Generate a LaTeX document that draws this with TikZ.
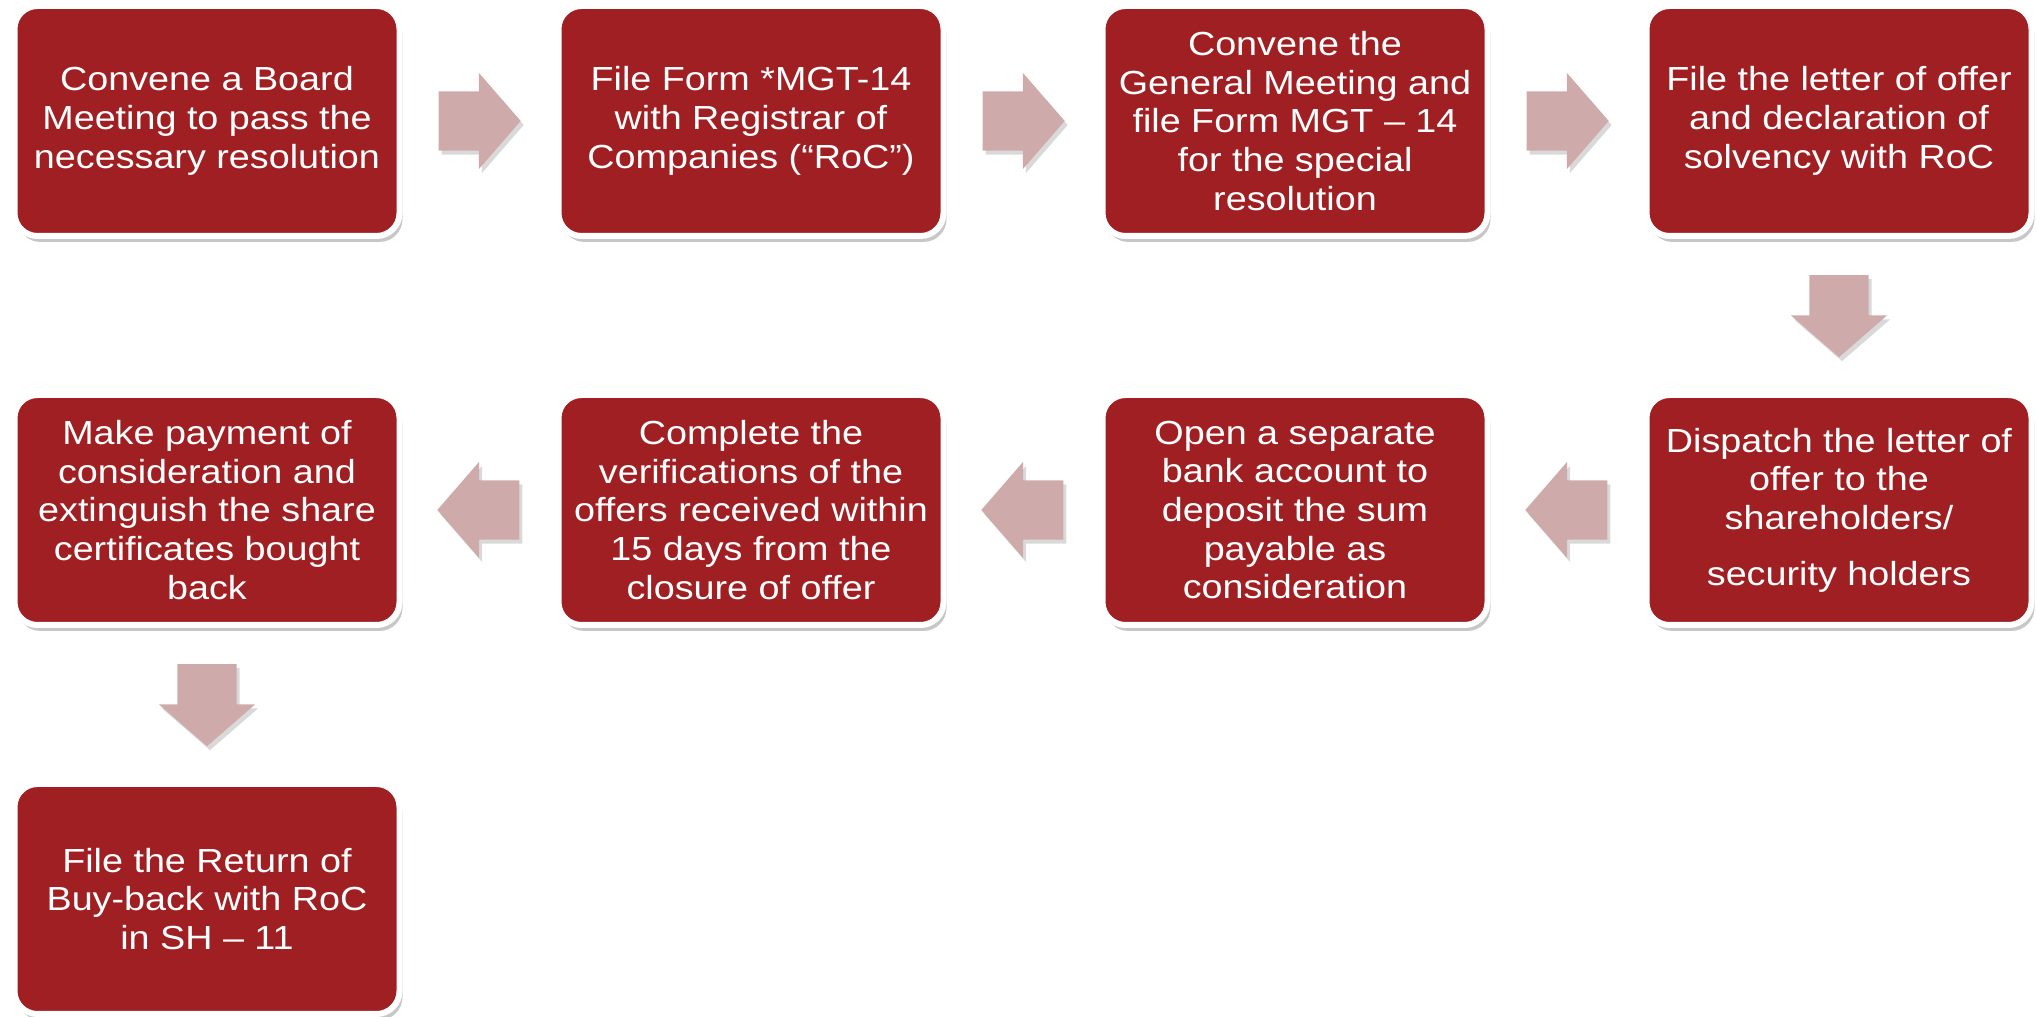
\documentclass[tikz,border=0pt]{standalone}
\usepackage{fontspec}
\setmainfont{Liberation Sans}[FakeStretch=1.13]
\usetikzlibrary{positioning,calc,shapes.arrows,shadows}

\definecolor{boxred}{RGB}{160,31,34}
\definecolor{arrowpink}{RGB}{206,170,170}

\begin{document}
\begin{tikzpicture}[node distance=15.3mm,
      stage/.style={rectangle,rounded corners=2.3mm,fill=boxred,draw=white,line width=0.6mm,
        minimum width=38.5mm,minimum height=23mm,inner sep=0pt,align=center,text=white,
        font=\fontsize{9.5}{11}\selectfont,
        drop shadow={shadow xshift=0.3mm,shadow yshift=-0.6mm,fill=black,opacity=0.22}},
      flow arrow/.style={single arrow,fill=arrowpink,inner xsep=0pt,inner ysep=2.9mm,
        minimum height=8.2mm,single arrow head extend=1.85mm,single arrow tip angle=98,
        anchor=tail,
        drop shadow={shadow xshift=0.3mm,shadow yshift=-0.4mm,fill=black,opacity=0.15}}]

  \useasboundingbox (0,0) rectangle (203.7mm,-101.7mm);

  % first row, left to right
  \node[stage] (1) at (20.7mm,-12.1mm) {Convene a Board\\Meeting to pass the\\necessary resolution};
  \node[stage] (2) [right=of 1] {File Form *MGT-14\\with Registrar of\\Companies (“RoC”)};
  \node[stage] (3) [right=of 2] {Convene the\\General Meeting and\\file Form MGT – 14\\for the special\\resolution};
  \node[stage] (4) [right=of 3] {File the letter of offer\\and declaration of\\solvency with RoC};

  % second row, right to left
  \node[stage] (5) [below=of 4] {Dispatch the letter of\\offer to the\\shareholders/\\[1.7mm]security holders};
  \node[stage] (6) [left=of 5] {Open a separate\\bank account to\\deposit the sum\\payable as\\consideration};
  \node[stage] (7) [left=of 6] {Complete the\\verifications of the\\offers received within\\15 days from the\\closure of offer};
  \node[stage] (8) [left=of 7] {Make payment of\\consideration and\\extinguish the share\\certificates bought\\back};

  % last step
  \node[stage] (9) [below=of 8] {File the Return of\\Buy-back with RoC\\in SH – 11};

  % block arrows, centred halfway between the steps
  \foreach \from/\to/\dir in {1/2/0,2/3/0,3/4/0,4/5/-90,5/6/180,6/7/180,7/8/180,8/9/-90}
    \node[flow arrow,rotate=\dir] at ($($(\from)!0.5!(\to)$)!4.1mm!(\from)$) {};

\end{tikzpicture}
\end{document}
